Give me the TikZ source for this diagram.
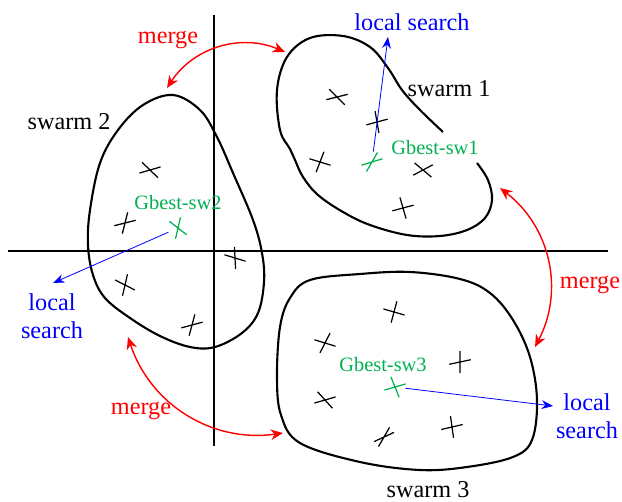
\documentclass[tikz,border=0pt]{standalone}
\usepackage{fontspec}
\setmainfont{Liberation Serif}
\usepackage{tikz}
\usetikzlibrary{arrows.meta}
\definecolor{mergered}{RGB}{255, 0, 0}
\definecolor{searchblue}{RGB}{0, 0, 255}
\definecolor{gbestgreen}{RGB}{0, 176, 80}
\tikzset{
    blob/.style={line width=1.2pt, black},
    axisline/.style={line width=0.7pt},
    xline/.style={line width=0.7pt},
    lbl/.style={font=\fontsize{13.8}{15.9}\selectfont, inner sep=0pt, align=center},
    gbl/.style={font=\fontsize{11.6}{14}\selectfont, text=gbestgreen, inner sep=0pt},
    mergearr/.style={mergered, line width=0.8pt, {Stealth[length=7pt,width=6pt]}-{Stealth[length=7pt,width=6pt]}},
    searcharr/.style={searchblue, line width=0.45pt, -{Stealth[length=6.5pt,width=5pt]}, shorten <=6pt}
}

\begin{document}
\begin{tikzpicture}[x=0.02cm, y=0.02cm]
    \useasboundingbox (0,0) rectangle (622,501);
    \draw[axisline] (8,250) -- (608,250);
    \draw[axisline] (214,486) -- (214,55);

    \draw[blob] plot[smooth, tension=0.6] coordinates {
        (477,338) (488,321) (492,301) (485,283) (467,271) (440,265) (407,266)
        (370,276) (343,289) (318,306) (303,324) (295,341) (290,352) (280,371)
        (277,411) (287,444) (310,463) (343,465) (370,454) (388,433) (402,411)
        (420,391) (443,369)};
    \draw[blob] plot[smooth cycle, tension=0.6] coordinates {
        (173,406) (200,391) (217,364) (233,328) (253,281) (262,248) (264,219)
        (258,188) (242,168) (215,154) (190,154) (160,165) (130,183) (105,203)
        (93,226) (88,256) (90,291) (100,338) (118,371) (143,396)};
    \draw[blob] plot[smooth cycle, tension=0.6] coordinates {
        (310,221) (360,227) (410,229) (460,222) (490,208) (513,181) (530,144)
        (537,101) (532,61) (513,44) (467,34) (420,31) (360,39) (300,58)
        (281,86) (277,124) (280,174) (290,203)};

    \foreach \x/\y/\a/\b in {
        337/404/14/-45, 377/379/15/100, 320/339/-17/69, 423/331/28/-40, 403/293/15/106,
        150/331/16/-44, 125/278/14/76, 235/243/-17/93, 125/216/-27/77, 192/176/15/75,
        394/189/-16/75, 325/158/-17/63, 460/139/12/90, 325/101/16/-48, 384/64/25/60,
        452/74/13/98}{
      \draw[xline, shift={(\x,\y)}] (\a:11) -- (\a+180:11) (\b:11) -- (\b+180:11);
    }
    \coordinate (g1) at (372,339);
    \coordinate (g2) at (178,273);
    \coordinate (g3) at (395,114);
    \foreach \n/\a/\b in {g1/17/60, g2/-38/77, g3/16/112}{
      \draw[xline, gbestgreen, shift={(\n)}] (\a:11) -- (\a+180:11) (\b:11) -- (\b+180:11);
    }

    \node[lbl] (sw1) at (449,412) {swarm 1};
    \node[lbl] (sw2) at (69,379) {swarm 2};
    \node[lbl] (sw3) at (428,11) {swarm 3};
    \node[gbl] (gb1) at (435,353) {Gbest-sw1};
    \node[gbl] (gb2) at (178,298) {Gbest-sw2};
    \node[gbl] (gb3) at (383,136) {Gbest-sw3};

    \node[lbl, text=searchblue] (ls1) at (412,479) {local search};
    \node[lbl, text=searchblue] (ls2) at (52,185) {local\\search};
    \node[lbl, text=searchblue] (ls3) at (587,85) {local\\search};
    \coordinate (t1) at (388,464);
    \coordinate (t2) at (53,218);
    \coordinate (t3) at (553,95);
    \draw[searcharr] (g1) -- (t1);
    \draw[searcharr] (g2) -- (t2);
    \draw[searcharr] (g3) -- (t3);

    \node[lbl, text=mergered] (mg1) at (168,461) {merge};
    \node[lbl, text=mergered] (mg2) at (590,216) {merge};
    \node[lbl, text=mergered] (mg3) at (141,90) {merge};
    \coordinate (m1a) at (167,413);
    \coordinate (m1b) at (285,449);
    \coordinate (m2a) at (500,313);
    \coordinate (m2b) at (535,154);
    \coordinate (m3a) at (128,164);
    \coordinate (m3b) at (283,68);
    \draw[mergearr] (m1a) to[bend left=40] (m1b);
    \draw[mergearr] (m2a) to[bend left=40] (m2b);
    \draw[mergearr] (m3a) to[bend right=40] (m3b);
\end{tikzpicture}
\end{document}
